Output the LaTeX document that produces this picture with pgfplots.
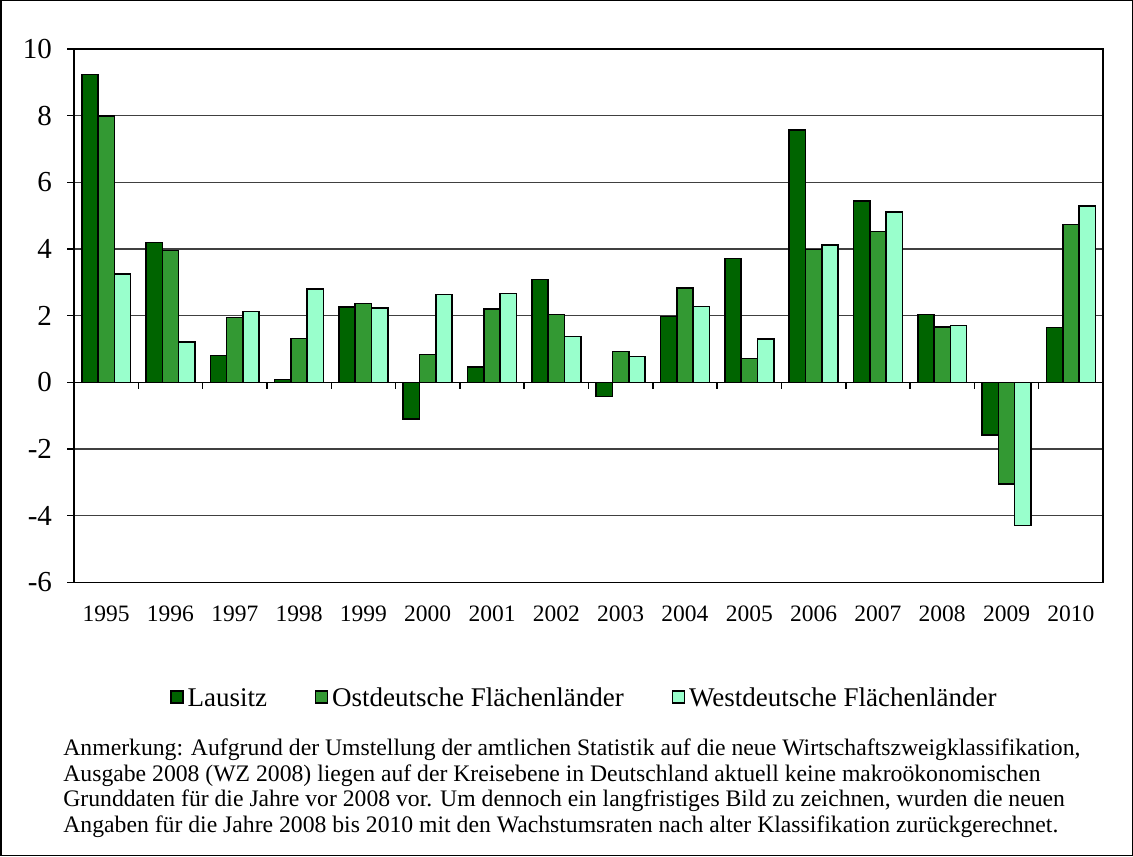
\documentclass[border=0pt]{standalone}
\usepackage{fontspec}
\setmainfont{Liberation Serif}
\usepackage{pgfplots}
\usepackage{pgfplotstable}
\pgfplotsset{compat=1.18}
\definecolor{cL}{HTML}{006400}
\definecolor{cO}{HTML}{339933}
\definecolor{cW}{HTML}{99FFCC}

\pgfplotstableread{
x L O W
0 9.23 7.99 3.25
1 4.20 3.95 1.21
2 0.80 1.95 2.12
3 0.09 1.31 2.80
4 2.26 2.36 2.23
5 -1.10 0.84 2.64
6 0.46 2.20 2.66
7 3.08 2.04 1.38
8 -0.42 0.93 0.78
9 1.98 2.83 2.28
10 3.72 0.72 1.30
11 7.57 3.98 4.12
12 5.44 4.52 5.11
13 2.03 1.66 1.71
14 -1.58 -3.05 -4.30
15 1.64 4.74 5.29
}\data

\begin{document}
\begin{tikzpicture}
\draw[line width=0.75pt] (0.375pt,0.375pt) rectangle (566.125pt,427.625pt);
\begin{axis}[
  at={(37pt,136.85pt)}, anchor=south west,
  scale only axis, width=514.5pt, height=266.65pt,
  xmin=-0.5, xmax=15.5, ymin=-6, ymax=10,
  xtick={0,...,15},
  xticklabels={1995,1996,1997,1998,1999,2000,2001,2002,2003,2004,2005,2006,2007,2008,2009,2010},
  ytick={-6,-4,-2,0,2,4,6,8,10},
  /pgf/number format/assume math mode=true,
  major x tick style={draw=none},
  ytick pos=left, tick align=outside, major tick length=3.5pt,
  tick style={black, line width=0.75pt},
  ymajorgrids, grid style={black!75, line width=0.75pt},
  axis line style={black, line width=0.75pt},
  ybar=0pt, bar width=8.15pt,
  xticklabel style={font=\fontsize{11.75}{14}\selectfont, yshift=-5pt},
  yticklabel style={font=\fontsize{14.5}{17}\selectfont, xshift=-4pt},
  legend columns=3,
  legend style={at={(0.497,-0.215)}, anchor=center, draw=none, fill=none,
    font=\fontsize{13.5}{16}\selectfont,
    /tikz/every even column/.append style={column sep=22pt}},
]
\addplot[fill=cL, draw=black, line width=0.8pt,
  legend image code/.code={\draw[fill=cL, draw=black, line width=0.6pt] (0pt,-3pt) rectangle (6pt,3pt);}]
  table[x=x, y=L]{\data};
\addplot[fill=cO, draw=black, line width=0.8pt,
  legend image code/.code={\draw[fill=cO, draw=black, line width=0.6pt] (0pt,-3pt) rectangle (6pt,3pt);}]
  table[x=x, y=O]{\data};
\addplot[fill=cW, draw=black, line width=0.8pt,
  legend image code/.code={\draw[fill=cW, draw=black, line width=0.6pt] (0pt,-3pt) rectangle (6pt,3pt);}]
  table[x=x, y=W]{\data};
\legend{\strut Lausitz, \strut Ostdeutsche Flächenländer, \strut Westdeutsche Flächenländer}
\draw[black, line width=0.75pt] (axis cs:-0.5,0) -- (axis cs:15.5,0);
\pgfplotsinvokeforeach{0.5,1.5,...,14.5}{
  \draw[black, line width=0.75pt] (axis cs:#1,0) -- ([yshift=-3.5pt]axis cs:#1,0);
}
\end{axis}
\node[anchor=north west, inner sep=0pt, align=left,
  font=\fontsize{11.84}{12.85}\selectfont] at (31.5pt,58.8pt)
  {Anmerkung: Aufgrund der Umstellung der amtlichen Statistik auf die neue Wirtschaftszweigklassifikation,\\
   Ausgabe 2008 (WZ 2008) liegen auf der Kreisebene in Deutschland aktuell keine makroökonomischen\\
   Grunddaten für die Jahre vor 2008 vor. Um dennoch ein langfristiges Bild zu zeichnen, wurden die neuen\\
   Angaben für die Jahre 2008 bis 2010 mit den Wachstumsraten nach alter Klassifikation zurückgerechnet.};
\end{tikzpicture}
\end{document}
